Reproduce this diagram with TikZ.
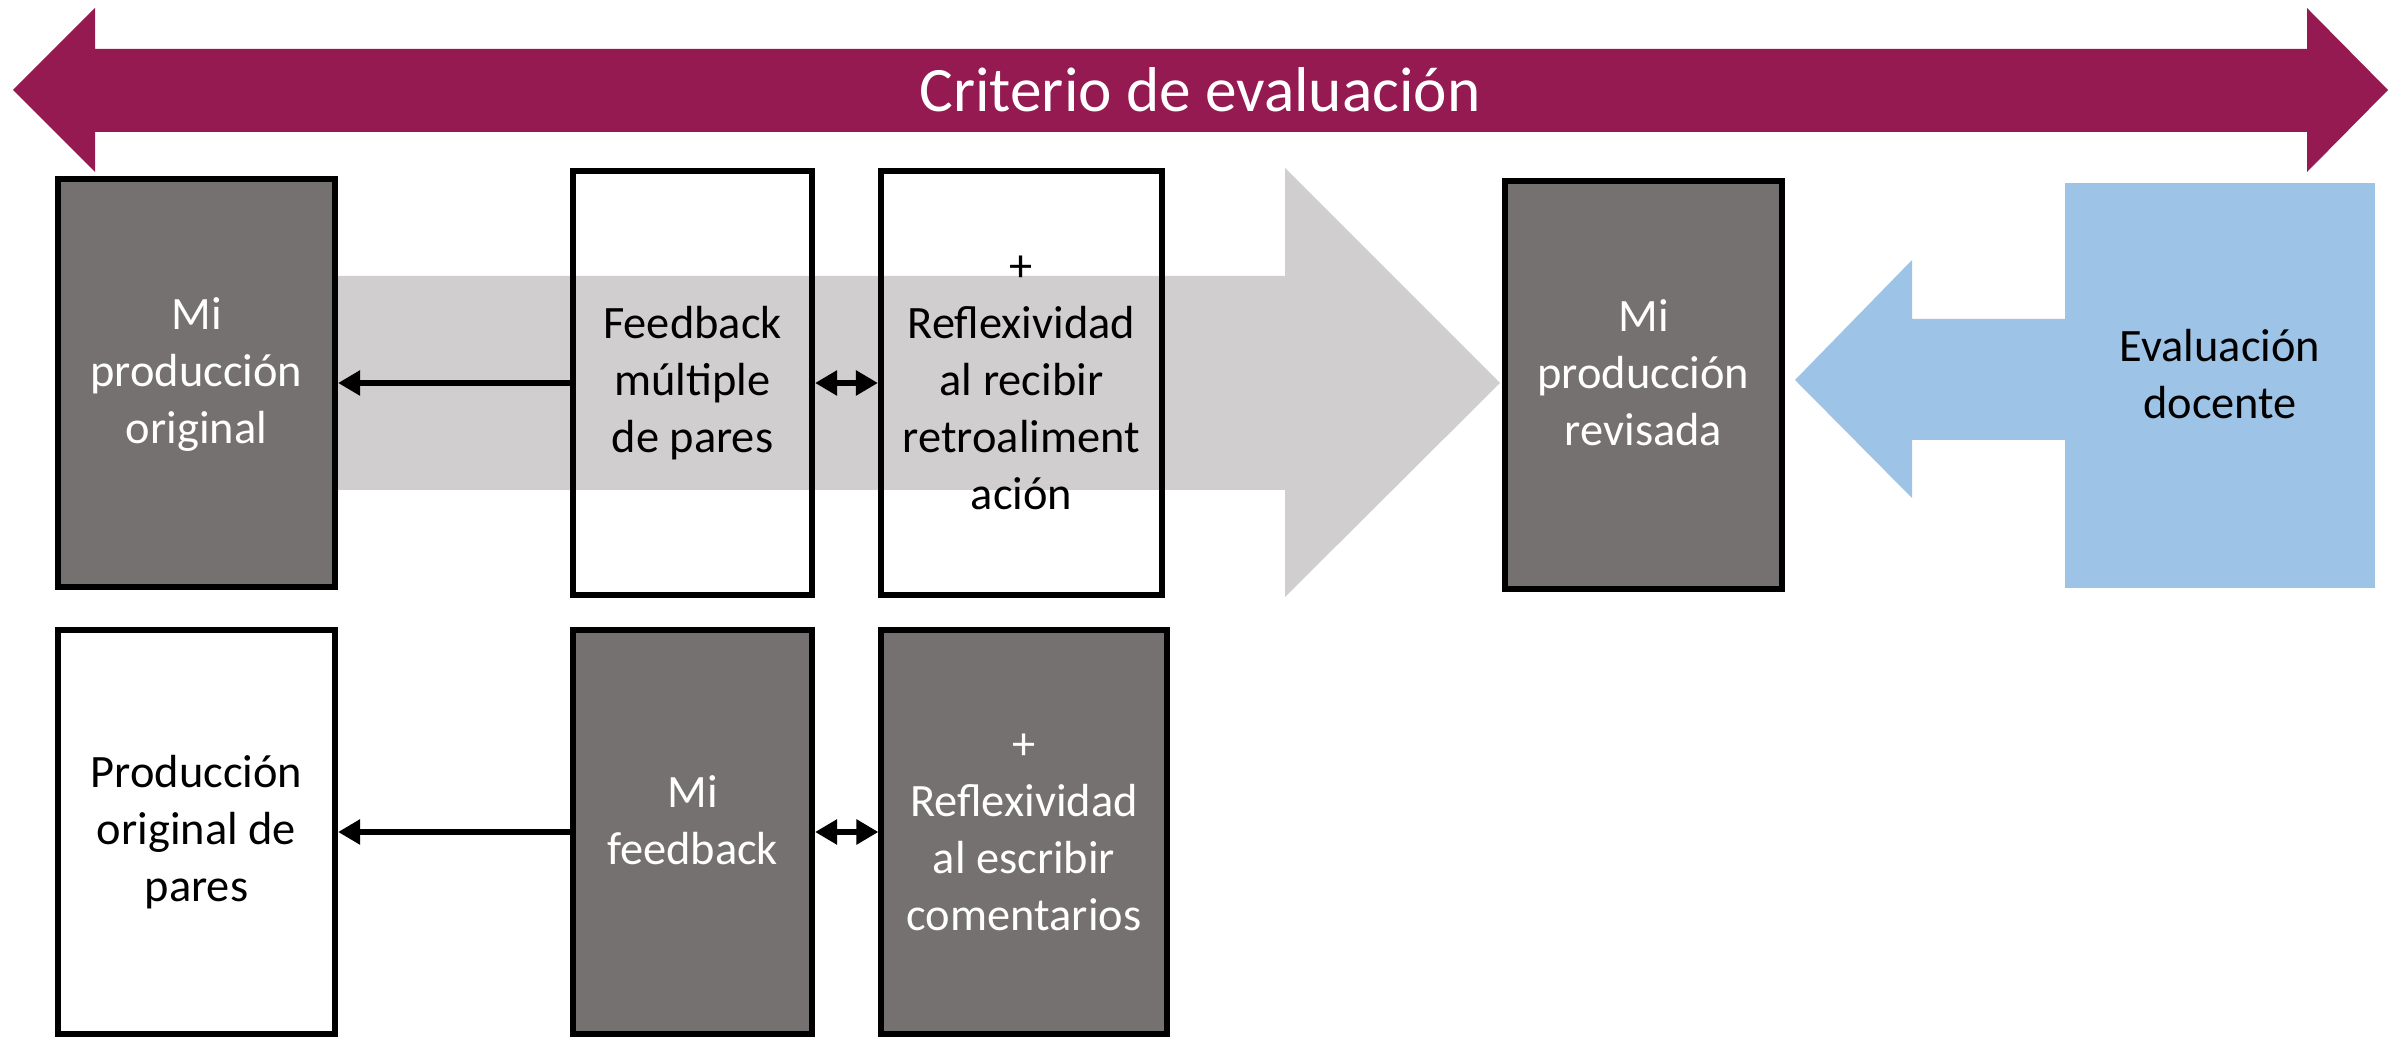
\documentclass[tikz,border=0pt]{standalone}
\usepackage{fontspec}
\setmainfont{Carlito}
\usepackage{tikz}
\usetikzlibrary{arrows.meta}
\usetikzlibrary{calc}
\definecolor{criterio}{RGB}{149,26,82}
\definecolor{oscuro}{RGB}{118,113,113}
\definecolor{flecha}{RGB}{208,206,206}
\definecolor{azuldoc}{RGB}{157,195,230}
\tikzstyle{caja}=[rectangle, draw=black, line width=0.06cm, inner sep=0pt, align=center, font=\fontsize{13.2}{16.2}\selectfont]
\tikzstyle{oscura}=[caja, fill=oscuro, text=white]
\tikzstyle{tran}=[draw, line width=0.06cm, -{Triangle[length=0.22cm,width=0.24cm]}]
\tikzstyle{dtran}=[draw, line width=0.06cm, {Triangle[length=0.22cm,width=0.24cm]}-{Triangle[length=0.22cm,width=0.24cm]}]

\begin{document}
\begin{tikzpicture}[x=0.01cm, y=-0.01cm]
\useasboundingbox (0,0) rectangle (2402,1037);

\fill[criterio] (13,90) -- (95,8) -- (95,49) -- (2307,49) -- (2307,8) -- (2388,90)
  -- (2307,172) -- (2307,132) -- (95,132) -- (95,172) -- cycle;
\node[anchor=base, text=white, font=\fontsize{18}{22}\selectfont] (titulo) at (1200,112) {Criterio de evaluación};

\fill[flecha] (200,276) -- (1285,276) -- (1285,168) -- (1500,383) -- (1285,597) -- (1285,490) -- (200,490) -- cycle;
\fill[azuldoc] (2070,319) -- (1912,319) -- (1912,260) -- (1795,380) -- (1912,498) -- (1912,440) -- (2070,440) -- cycle;

\node[oscura, minimum width=2.77cm, minimum height=4.08cm, text depth=0.24cm] (orig) at (196.5,383)
{Mi\\producción\\original};

\node[caja, minimum width=2.39cm, minimum height=4.24cm] (fbpares)     at (692.5,383)
{Feedback\\múltiple\\de pares};

\node[caja, minimum width=2.81cm, minimum height=4.24cm] (reflrec)     at (1021.5,383)
{+\\Reflexividad\\al recibir\\retroaliment\\ación};

\node[oscura, minimum width=2.77cm, minimum height=4.08cm, text depth=0.24cm] (revisada) at (1643.5,385)
{Mi\\producción\\revisada};

\node[caja, draw=none, fill=azuldoc, minimum width=3.10cm, minimum height=4.05cm, text depth=0.24cm] (evaluacion) at (2220,385.5)
{Evaluación\\docente};

\node[caja, minimum width=2.77cm, minimum height=4.04cm] (paresorig)   at (196.5,832)
{Producción\\original de\\pares};

\node[oscura, minimum width=2.39cm, minimum height=4.04cm, text depth=0.24cm] (mifb) at (692.5,832)
{Mi\\feedback};

\node[oscura, minimum width=2.85cm, minimum height=4.04cm] (reflesc)   at (1024,832)
{+\\Reflexividad\\al escribir\\comentarios};

\draw[tran]  (fbpares) to (orig);
\draw[dtran] (fbpares) to (reflrec);
\draw[tran]  (mifb)    to (paresorig);
\draw[dtran] (mifb)    to (reflesc);

\end{tikzpicture}
\end{document}
